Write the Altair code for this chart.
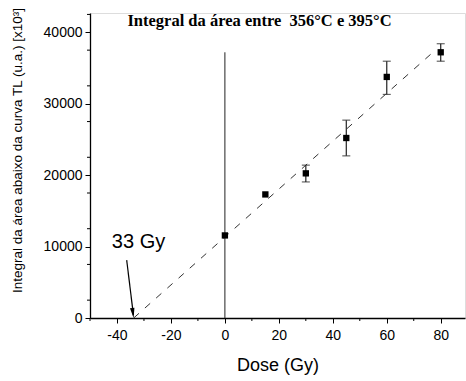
import altair as alt
import pandas as pd

# data
dose = [0, 15, 30, 45, 60, 80]
area = [11560, 17300, 20250, 25200, 33750, 37200]
err_dose = [30, 45, 60, 80]
err_lo = [19050, 22700, 31300, 35950]
err_hi = [21400, 27700, 35950, 38400]
fit_x = [-33.8, 78]
fit_y = [0, 37500]
vline_x = [0]
vline_y0 = [0]
vline_y1 = [37200]
arrow_x = [-36.4, -33.9]
arrow_y = [8100, 400]
head_x = [-34.1]
head_y = [700]
label_x = [-41.9]
label_y = [9800]
label_text = ["33 Gy"]
x_ticks = [-40, -20, 0, 20, 40, 60, 80]
x_minor = [-50, -30, -10, 10, 30, 50, 70]
y_ticks = [0, 5000, 10000, 15000, 20000, 25000, 30000, 35000, 40000]
y_minor = [2500, 7500, 12500, 17500, 22500, 27500, 32500, 37500, 42500]

XD = [-50, 89]
YD = [0, 42700]
W, H = 375, 305

xs = alt.Scale(domain=XD, nice=False, zero=False)
ys = alt.Scale(domain=YD, nice=False)

pts = pd.DataFrame({"dose": dose, "area": area})
errs = pd.DataFrame({"dose": err_dose, "lo": err_lo, "hi": err_hi})
fit = pd.DataFrame({"x": fit_x, "y": fit_y})
vl = pd.DataFrame({"x": vline_x, "y0": vline_y0, "y1": vline_y1})
arr = pd.DataFrame({"x": arrow_x, "y": arrow_y})
head = pd.DataFrame({"x": head_x, "y": head_y})
lab = pd.DataFrame({"x": label_x, "y": label_y, "t": label_text})
xm = pd.DataFrame({"x": x_minor})
ym = pd.DataFrame({"y": y_minor})

xaxis = alt.Axis(values=x_ticks, title="Dose (Gy)", grid=False, domainColor="black",
                 domainWidth=1.3, tickColor="black", tickSize=5, labelFontSize=14,
                 labelFont="Liberation Sans", labelColor="black", titleFont="Liberation Sans",
                 titleFontSize=18, titleFontWeight="normal", titleColor="black",
                 titlePadding=14, labelPadding=5, labelExpr="'' + datum.value")
yaxis = alt.Axis(values=y_ticks, title="Integral da área abaixo da curva TL (u.a.) [x10³]",
                 grid=False, domainColor="black", domainWidth=1.3, tickColor="black",
                 tickSize=5, labelFontSize=14, labelFont="Liberation Sans", labelColor="black",
                 titleFont="Liberation Sans", titleFontSize=13.5, titleFontWeight="normal",
                 titleColor="black", titleX=-66, titleY=137, labelPadding=3,
                 labelExpr="'' + datum.value")

base_pts = alt.Chart(pts).mark_square(size=40, color="black", opacity=1).encode(
    x=alt.X("dose:Q", scale=xs, axis=xaxis),
    y=alt.Y("area:Q", scale=ys, axis=yaxis),
)

fit_line = alt.Chart(fit).mark_line(color="#333333", strokeWidth=1, strokeDash=[7, 8]).encode(
    x=alt.X("x:Q", scale=xs), y=alt.Y("y:Q", scale=ys))

vrule = alt.Chart(vl).mark_rule(color="#222222", strokeWidth=1).encode(
    x=alt.X("x:Q", scale=xs), y=alt.Y("y0:Q", scale=ys), y2="y1:Q")

err_rule = alt.Chart(errs).mark_rule(color="#222222", strokeWidth=1.2).encode(
    x=alt.X("dose:Q", scale=xs), y=alt.Y("lo:Q", scale=ys), y2="hi:Q")
cap_lo = alt.Chart(errs).mark_tick(orient="horizontal", size=8, thickness=1.2, color="#222222").encode(
    x=alt.X("dose:Q", scale=xs), y=alt.Y("lo:Q", scale=ys))
cap_hi = alt.Chart(errs).mark_tick(orient="horizontal", size=8, thickness=1.2, color="#222222").encode(
    x=alt.X("dose:Q", scale=xs), y=alt.Y("hi:Q", scale=ys))

arrow_line = alt.Chart(arr).mark_line(color="black", strokeWidth=1.2).encode(
    x=alt.X("x:Q", scale=xs), y=alt.Y("y:Q", scale=ys))
arrow_head = alt.Chart(head).mark_point(shape="M -0.45 -1 L 0.45 -1 L 0 1 Z", size=100, filled=True,
                                        color="black", opacity=1, angle=352).encode(
    x=alt.X("x:Q", scale=xs), y=alt.Y("y:Q", scale=ys))

label = alt.Chart(lab).mark_text(align="left", baseline="alphabetic", fontSize=20,
                                 font="Liberation Sans", color="black").encode(
    x=alt.X("x:Q", scale=xs), y=alt.Y("y:Q", scale=ys), text="t:N")

xminor = alt.Chart(xm).mark_rule(color="black", strokeWidth=1).encode(
    x=alt.X("x:Q", scale=xs), y=alt.value(H), y2=alt.value(H + 3))
yminor = alt.Chart(ym).mark_rule(color="black", strokeWidth=1).encode(
    y=alt.Y("y:Q", scale=ys), x=alt.value(0), x2=alt.value(-3))

chart = alt.layer(
    fit_line, vrule, err_rule, cap_lo, cap_hi, base_pts, arrow_line, arrow_head, label,
    xminor, yminor,
).properties(
    width=W, height=H,
    title=alt.TitleParams("Integral da área entre\u00a0 356°C e 395°C", font="Liberation Serif",
                          fontSize=16.5, fontWeight="bold", color="black", offset=-22,
                          dx=-18, anchor="middle"),
    autosize=alt.AutoSizeParams(type="none"),
    padding={"left": 90, "top": 13, "right": 1, "bottom": 63},
).configure_view(stroke=None).configure(background="white")

chart.save("out.html", embed_options={"renderer": "svg", "actions": False})
